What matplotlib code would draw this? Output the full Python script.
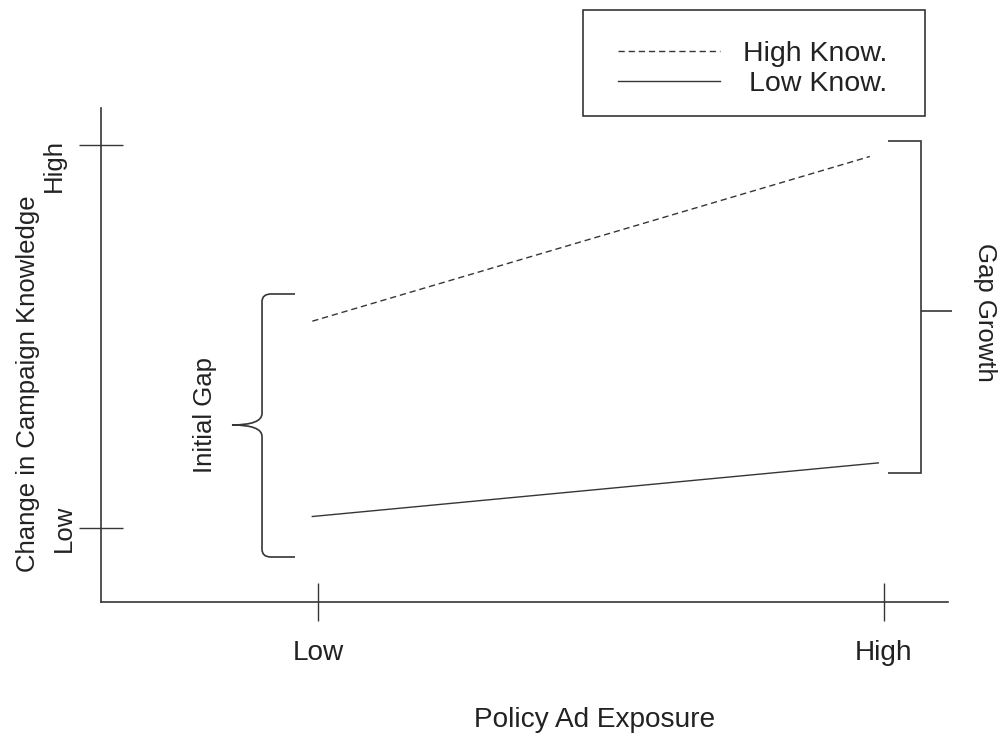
import matplotlib
matplotlib.use('Agg')
import matplotlib.pyplot as plt
from matplotlib.path import Path
from matplotlib.patches import PathPatch, Rectangle
import matplotlib.transforms as mtransforms

plt.rcParams['font.family'] = ['Liberation Sans', 'DejaVu Sans']

# ---------------- data ----------------
exposure_ticks = [0, 1]
exposure_labels = ['Low', 'High']
knowledge_ticks = [0, 1]
knowledge_labels = ['Low', 'High']
series_names = ['High Know.', 'Low Know.']
high_know_x = [-0.01, 0.975]
high_know_y = [0.54, 0.97]
low_know_x = [-0.01, 0.99]
low_know_y = [0.03, 0.17]
x_title = 'Policy Ad Exposure'
y_title = 'Change in Campaign Knowledge'
left_note = 'Initial Gap'
right_note = 'Gap Growth'

# ---------------- figure ----------------
W, H = 1002, 738
fig = plt.figure(figsize=(W / 100, H / 100), dpi=100)


def fx(px):
    return px / W


def fy(py):
    return 1 - py / H


INK = '#363636'
TXT = '#222222'
FS_V = 18.5   # rotated texts
FS_H = 20.2   # horizontal texts

ax = fig.add_axes([fx(101), fy(602), fx(948) - fx(101), fy(108) - fy(602)])
ax.set_xlim(-0.3834, 1.1131)
ax.set_ylim(-0.1932, 1.0966)

ax.plot(high_know_x, high_know_y, color=INK, lw=1.0, dashes=(4.5, 2.8),
        label=series_names[0])
ax.plot(low_know_x, low_know_y, color=INK, lw=1.0, label=series_names[1])

for s in ['top', 'right']:
    ax.spines[s].set_visible(False)
for s in ['left', 'bottom']:
    ax.spines[s].set_color(INK)
    ax.spines[s].set_linewidth(1.2)

ax.set_xticks(exposure_ticks, exposure_labels)
ax.set_yticks(knowledge_ticks, knowledge_labels)
ax.tick_params(axis='x', direction='inout', length=27, width=1.0, color=INK,
               pad=14, labelsize=FS_H, labelcolor=TXT)
ax.tick_params(axis='y', direction='inout', length=31, width=1.0, color=INK,
               pad=1, labelsize=FS_V, labelcolor=TXT, labelrotation=90)

ylabels = ax.get_yticklabels()
offsets = [(-2, 0), (-12, -21)]  # pixel nudges for Low, High
for lbl, (dx, dy) in zip(ylabels, offsets):
    lbl.set_va('center')
    lbl.set_transform(lbl.get_transform() +
                      mtransforms.ScaledTranslation(dx / 100, dy / 100, fig.dpi_scale_trans))

ax.set_xlabel(x_title, fontsize=FS_H, color=TXT, va='center')
ax.xaxis.set_label_coords(0.583, -0.238)
ax.set_ylabel(y_title, fontsize=FS_V, color=TXT, va='center')
ax.yaxis.set_label_coords(-0.086, 0.441)

# ---------------- curly brace (Initial Gap) ----------------
xe, xv, xt = -0.0406, -0.0989, -0.152
yt, yb, ym = 0.611, -0.0757, 0.269
rx, ry, rm = 0.016, 0.02, 0.03
verts = [(xe, yt), (xv + rx, yt), (xv, yt), (xv, yt - ry),
         (xv, ym + rm), (xv, ym), (xt, ym), (xv, ym), (xv, ym - rm),
         (xv, yb + ry), (xv, yb), (xv + rx, yb), (xe, yb)]
codes = [Path.MOVETO, Path.LINETO, Path.CURVE3, Path.CURVE3,
         Path.LINETO, Path.CURVE3, Path.CURVE3, Path.CURVE3, Path.CURVE3,
         Path.LINETO, Path.CURVE3, Path.CURVE3, Path.LINETO]
ax.add_patch(PathPatch(Path(verts, codes), fill=False, ec=INK, lw=1.2,
                       clip_on=False))
ax.text(-0.200, 0.295, left_note, rotation=90, ha='center', va='center',
        fontsize=FS_V, color=TXT)

# ---------------- square bracket (Gap Growth) ----------------
bverts = [(1.007, 1.010), (1.065, 1.010), (1.065, 0.1436), (1.007, 0.1436),
          (1.065, 0.5666), (1.120, 0.5666)]
bcodes = [Path.MOVETO, Path.LINETO, Path.LINETO, Path.LINETO,
          Path.MOVETO, Path.LINETO]
ax.add_patch(PathPatch(Path(bverts, bcodes), fill=False, ec=INK, lw=1.2,
                       clip_on=False))
ax.text(1.178, 0.564, right_note, rotation=-90, ha='center', va='center',
        fontsize=FS_V, color=TXT)

# ---------------- legend ----------------
LEG_FS = 20.5
em = LEG_FS * 100 / 72
leg = ax.legend(loc='upper left', bbox_to_anchor=(fx(618), fy(41)),
                bbox_transform=fig.transFigure, frameon=False, borderpad=0,
                borderaxespad=0, handlelength=102 / em, handletextpad=23 / em,
                labelspacing=0.15, fontsize=LEG_FS)
for t in leg.get_texts():
    t.set_color(TXT)
fig.add_artist(Rectangle((fx(583), fy(116)), fx(925) - fx(583), fy(10) - fy(116),
                         transform=fig.transFigure, fill=False, ec=INK, lw=1.2))

fig.canvas.draw()
r = fig.canvas.get_renderer()
texts = leg.get_texts()
widths = [t.get_window_extent(r).width for t in texts]
mw = max(widths)
for t, w in zip(texts, widths):
    t.set_x(mw - w)

fig.savefig('out.png', dpi=100)
